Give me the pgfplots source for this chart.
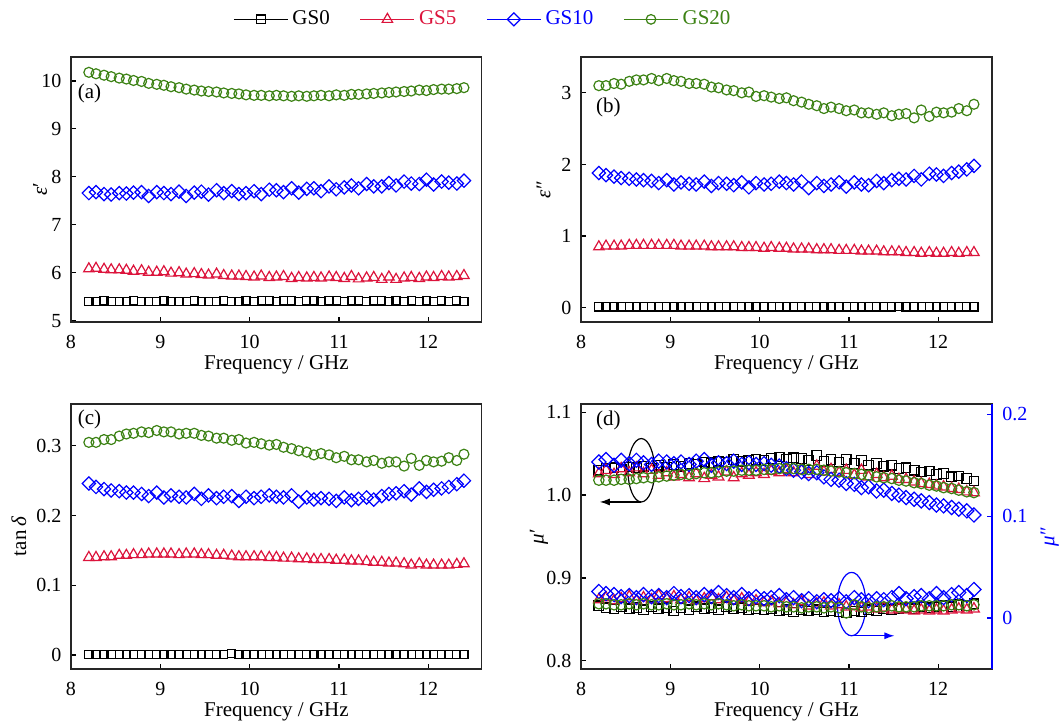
\documentclass[border=0pt]{standalone}
\usepackage{fontspec}
\setmainfont{Liberation Serif}
\usepackage{pgfplots}
\pgfplotsset{compat=1.18}
\usepackage{pgfplotstable}
\usetikzlibrary{arrows.meta}

\definecolor{gsred}{RGB}{220,20,60}
\definecolor{gsblue}{RGB}{0,0,255}
\definecolor{gsgreen}{RGB}{60,130,20}

\newcommand\lblfont{\fontsize{10.5}{12}\selectfont}
\newcommand\tckfont{\fontsize{10}{12}\selectfont}

\pgfplotsset{
  panel/.style={
    scale only axis, width=205.4pt, height=132.5pt, anchor=north west,
    xmin=8, xmax=12.6, xtick={8,...,12},
    tick align=inside, tick pos=left, major tick length=2.5pt,
    axis line style={black!85, line width=0.7pt},
    tick style={black, line width=0.6pt},
    /pgf/number format/assume math mode=true,
    every tick label/.append style={font=\tckfont},
    xticklabel style={yshift=-3pt},
    yticklabel style={xshift=-1.3pt},
    label style={font=\lblfont},
    xlabel={Frequency / GHz},
    xlabel style={at={([yshift=-21.5pt]rel axis cs:0.5,0)}, anchor=center},
  },
  ylab/.style={ylabel style={at={([xshift=-#1]rel axis cs:0,0.5)}, anchor=center}},
  s0/.style={only marks, black, mark=square, mark size=#1, mark options={fill=white, line width=0.6pt}},
  s5/.style={only marks, gsred, mark=triangle, mark size=#1, mark options={fill=white, line width=0.6pt}},
  s10/.style={only marks, gsblue, mark=square, mark size=#1, mark options={fill=white, rotate=45, line width=0.6pt}},
  s20/.style={only marks, gsgreen, mark=o, mark size=#1, mark options={fill=white, line width=0.6pt}},
}

% epsilon'
\pgfplotstableread{
f g0 g5 g10 g20
8.20 5.40 6.08 7.66 10.18
8.28 5.40 6.09 7.68 10.15
8.37 5.41 6.07 7.64 10.12
8.45 5.40 6.06 7.63 10.09
8.54 5.40 6.06 7.66 10.06
8.62 5.40 6.05 7.65 10.04
8.70 5.41 6.03 7.67 10.01
8.79 5.40 6.04 7.68 9.99
8.87 5.40 6.01 7.60 9.95
8.96 5.40 6.01 7.68 9.93
9.04 5.41 6.02 7.66 9.91
9.12 5.40 5.99 7.64 9.88
9.21 5.40 6.00 7.69 9.86
9.29 5.40 5.97 7.60 9.83
9.38 5.41 5.98 7.67 9.81
9.46 5.40 5.96 7.69 9.79
9.54 5.40 5.95 7.63 9.78
9.63 5.40 5.97 7.72 9.77
9.71 5.41 5.94 7.66 9.75
9.80 5.40 5.93 7.70 9.74
9.88 5.40 5.93 7.64 9.73
9.96 5.41 5.92 7.66 9.71
10.05 5.40 5.91 7.70 9.70
10.13 5.41 5.93 7.64 9.70
10.22 5.41 5.90 7.73 9.69
10.30 5.40 5.91 7.72 9.70
10.38 5.41 5.92 7.68 9.69
10.47 5.41 5.88 7.76 9.68
10.55 5.40 5.90 7.67 9.69
10.64 5.41 5.89 7.75 9.68
10.72 5.41 5.90 7.76 9.69
10.80 5.40 5.89 7.70 9.70
10.89 5.41 5.91 7.80 9.69
10.97 5.41 5.90 7.74 9.71
11.06 5.40 5.88 7.78 9.70
11.14 5.41 5.92 7.82 9.72
11.22 5.41 5.87 7.76 9.72
11.31 5.40 5.89 7.85 9.73
11.39 5.41 5.90 7.80 9.74
11.48 5.41 5.86 7.80 9.75
11.56 5.40 5.91 7.87 9.76
11.64 5.41 5.86 7.82 9.77
11.73 5.40 5.89 7.90 9.78
11.81 5.41 5.90 7.86 9.79
11.90 5.40 5.88 7.85 9.81
11.98 5.41 5.91 7.94 9.80
12.06 5.40 5.90 7.84 9.82
12.15 5.41 5.92 7.90 9.83
12.23 5.40 5.91 7.88 9.83
12.32 5.41 5.92 7.86 9.84
12.40 5.40 5.94 7.92 9.86
}\tabA

% epsilon''
\pgfplotstableread{
f g0 g5 g10 g20
8.20 0.01 0.85 1.88 3.10
8.28 0.01 0.86 1.85 3.10
8.37 0.01 0.86 1.83 3.13
8.45 0.01 0.86 1.81 3.12
8.54 0.01 0.87 1.80 3.16
8.62 0.01 0.87 1.79 3.18
8.70 0.01 0.87 1.78 3.18
8.79 0.01 0.87 1.77 3.20
8.87 0.01 0.87 1.74 3.17
8.96 0.01 0.87 1.78 3.20
9.04 0.01 0.87 1.72 3.17
9.12 0.01 0.86 1.75 3.16
9.21 0.01 0.86 1.73 3.13
9.29 0.01 0.86 1.72 3.13
9.38 0.01 0.86 1.76 3.12
9.46 0.01 0.85 1.70 3.08
9.54 0.01 0.85 1.74 3.07
9.63 0.01 0.85 1.73 3.04
9.71 0.01 0.85 1.71 3.03
9.80 0.01 0.84 1.75 3.00
9.88 0.01 0.84 1.68 3.01
9.96 0.01 0.84 1.74 2.95
10.05 0.01 0.83 1.72 2.96
10.13 0.01 0.84 1.73 2.94
10.22 0.01 0.83 1.76 2.92
10.30 0.01 0.83 1.74 2.93
10.38 0.01 0.82 1.72 2.89
10.47 0.01 0.82 1.76 2.87
10.55 0.01 0.82 1.67 2.84
10.64 0.01 0.81 1.74 2.82
10.72 0.01 0.81 1.70 2.78
10.80 0.01 0.81 1.72 2.80
10.89 0.01 0.80 1.75 2.78
10.97 0.01 0.80 1.69 2.75
11.06 0.01 0.80 1.75 2.76
11.14 0.01 0.79 1.72 2.72
11.22 0.01 0.79 1.71 2.72
11.31 0.01 0.79 1.77 2.70
11.39 0.01 0.78 1.74 2.72
11.48 0.01 0.78 1.78 2.68
11.56 0.02 0.78 1.80 2.70
11.64 0.01 0.77 1.79 2.71
11.73 0.01 0.77 1.84 2.65
11.81 0.01 0.76 1.79 2.76
11.90 0.01 0.77 1.87 2.67
11.98 0.01 0.76 1.86 2.73
12.06 0.01 0.76 1.84 2.72
12.15 0.01 0.77 1.88 2.73
12.23 0.01 0.76 1.90 2.78
12.32 0.01 0.77 1.93 2.75
12.40 0.01 0.77 1.98 2.84
}\tabB

% tan delta
\pgfplotstableread{
f g0 g5 g10 g20
8.20 0.001 0.140 0.246 0.305
8.28 0.001 0.140 0.241 0.305
8.37 0.001 0.141 0.238 0.309
8.45 0.001 0.141 0.236 0.309
8.54 0.001 0.143 0.235 0.314
8.62 0.001 0.143 0.233 0.317
8.70 0.001 0.144 0.233 0.318
8.79 0.001 0.144 0.231 0.320
8.87 0.001 0.145 0.228 0.319
8.96 0.001 0.145 0.233 0.322
9.04 0.001 0.145 0.226 0.320
9.12 0.001 0.145 0.229 0.320
9.21 0.001 0.144 0.227 0.317
9.29 0.001 0.145 0.226 0.318
9.38 0.001 0.145 0.231 0.318
9.46 0.001 0.144 0.224 0.315
9.54 0.001 0.144 0.229 0.314
9.63 0.001 0.143 0.225 0.311
9.71 0.001 0.143 0.227 0.311
9.80 0.002 0.142 0.228 0.308
9.88 0.001 0.141 0.221 0.309
9.96 0.001 0.141 0.227 0.304
10.05 0.001 0.141 0.225 0.305
10.13 0.001 0.141 0.227 0.303
10.22 0.001 0.140 0.229 0.301
10.30 0.001 0.140 0.227 0.302
10.38 0.001 0.139 0.226 0.298
10.47 0.001 0.139 0.229 0.296
10.55 0.001 0.138 0.220 0.293
10.64 0.001 0.138 0.226 0.291
10.72 0.001 0.137 0.223 0.287
10.80 0.001 0.137 0.225 0.289
10.89 0.001 0.137 0.224 0.287
10.97 0.001 0.136 0.221 0.283
11.06 0.001 0.136 0.226 0.285
11.14 0.001 0.135 0.222 0.280
11.22 0.001 0.135 0.224 0.280
11.31 0.001 0.134 0.226 0.277
11.39 0.001 0.133 0.223 0.279
11.48 0.001 0.133 0.228 0.275
11.56 0.001 0.132 0.231 0.277
11.64 0.001 0.132 0.232 0.277
11.73 0.001 0.131 0.235 0.271
11.81 0.001 0.129 0.230 0.282
11.90 0.001 0.131 0.239 0.272
11.98 0.001 0.129 0.234 0.279
12.06 0.001 0.129 0.237 0.277
12.15 0.001 0.129 0.239 0.278
12.23 0.001 0.129 0.241 0.283
12.32 0.001 0.130 0.245 0.279
12.40 0.001 0.131 0.250 0.288
}\tabC

% mu' (m) and mu'' (n)
\pgfplotstableread{
f m0 m5 m10 m20 n0 n5 n10 n20
8.20 1.030 1.026 1.040 1.018 0.012 0.018 0.026 0.014
8.28 1.032 1.030 1.043 1.018 0.010 0.020 0.024 0.014
8.37 1.033 1.025 1.036 1.018 0.009 0.017 0.023 0.013
8.45 1.031 1.032 1.042 1.019 0.011 0.019 0.021 0.013
8.54 1.034 1.027 1.038 1.019 0.009 0.021 0.022 0.014
8.62 1.033 1.033 1.042 1.020 0.010 0.017 0.020 0.013
8.70 1.035 1.026 1.039 1.021 0.008 0.020 0.023 0.014
8.79 1.032 1.030 1.037 1.021 0.011 0.018 0.021 0.013
8.87 1.036 1.024 1.041 1.022 0.009 0.022 0.022 0.013
8.96 1.034 1.027 1.040 1.023 0.010 0.019 0.020 0.014
9.04 1.037 1.022 1.038 1.024 0.007 0.021 0.024 0.013
9.12 1.035 1.025 1.040 1.025 0.010 0.018 0.021 0.013
9.21 1.038 1.021 1.037 1.025 0.008 0.020 0.022 0.014
9.29 1.037 1.026 1.041 1.026 0.011 0.017 0.020 0.013
9.38 1.040 1.020 1.043 1.027 0.009 0.019 0.023 0.014
9.46 1.039 1.024 1.036 1.027 0.010 0.021 0.021 0.013
9.54 1.041 1.022 1.039 1.028 0.008 0.018 0.025 0.014
9.63 1.040 1.028 1.038 1.029 0.011 0.020 0.022 0.013
9.71 1.043 1.021 1.041 1.029 0.009 0.017 0.020 0.012
9.80 1.041 1.026 1.037 1.030 0.010 0.019 0.023 0.013
9.88 1.042 1.024 1.039 1.030 0.008 0.016 0.019 0.012
9.96 1.043 1.027 1.037 1.030 0.009 0.017 0.021 0.012
10.05 1.042 1.025 1.038 1.031 0.008 0.015 0.019 0.012
10.13 1.044 1.029 1.036 1.031 0.009 0.016 0.020 0.011
10.22 1.046 1.027 1.035 1.032 0.007 0.014 0.022 0.012
10.30 1.043 1.031 1.032 1.032 0.008 0.015 0.018 0.011
10.38 1.045 1.027 1.030 1.032 0.006 0.013 0.020 0.011
10.47 1.044 1.030 1.028 1.031 0.008 0.016 0.017 0.010
10.55 1.042 1.025 1.026 1.031 0.007 0.012 0.019 0.011
10.64 1.048 1.035 1.027 1.031 0.008 0.014 0.016 0.011
10.72 1.041 1.028 1.022 1.030 0.006 0.015 0.018 0.010
10.80 1.043 1.031 1.019 1.029 0.007 0.012 0.017 0.011
10.89 1.040 1.027 1.018 1.028 0.006 0.013 0.019 0.010
10.97 1.043 1.030 1.014 1.027 0.005 0.011 0.016 0.005
11.06 1.038 1.024 1.013 1.026 0.007 0.012 0.020 0.013
11.14 1.042 1.030 1.009 1.025 0.006 0.010 0.018 0.011
11.22 1.036 1.022 1.010 1.024 0.008 0.011 0.017 0.010
11.31 1.038 1.025 1.005 1.022 0.007 0.009 0.019 0.011
11.39 1.035 1.021 1.006 1.021 0.009 0.010 0.018 0.011
11.48 1.036 1.023 1.002 1.020 0.008 0.008 0.020 0.012
11.56 1.032 1.019 1.000 1.018 0.009 0.009 0.024 0.011
11.64 1.033 1.019 0.997 1.017 0.010 0.008 0.019 0.011
11.73 1.030 1.016 0.995 1.015 0.009 0.007 0.021 0.011
11.81 1.028 1.014 0.993 1.014 0.011 0.008 0.022 0.012
11.90 1.029 1.013 0.991 1.012 0.010 0.007 0.019 0.012
11.98 1.025 1.011 0.988 1.011 0.011 0.008 0.024 0.012
12.06 1.026 1.010 0.987 1.009 0.012 0.007 0.020 0.012
12.15 1.022 1.008 0.985 1.008 0.011 0.008 0.023 0.013
12.23 1.023 1.007 0.983 1.006 0.013 0.009 0.025 0.013
12.32 1.020 1.004 0.981 1.004 0.012 0.008 0.022 0.012
12.40 1.017 1.003 0.976 1.003 0.014 0.009 0.028 0.013
}\tabD

\begin{document}
\begin{tikzpicture}
\path[use as bounding box] (0,0) rectangle (530.5pt,-364pt);

% (a) epsilon'
\begin{axis}[panel, at={(35.5pt,-28.5pt)},
  ymin=4.97, ymax=10.5, ytick={5,...,10},
  ylabel={\textit{ε}′}, ylab=15.5pt,
  legend style={at={(rel axis cs:1.005,1.142)}, anchor=center, draw=none, fill=none,
    font=\lblfont, legend columns=4,
    /tikz/every even column/.append style={column sep=13pt}},
  legend image code/.code={\draw[mark repeat=2, mark phase=2] plot coordinates {(0pt,0pt) (13.5pt,0pt) (27pt,0pt)};},
]
\addlegendimage{black, line width=0.6pt, mark=square, mark size=2.2pt, mark options={fill=white, solid}}
\addlegendimage{gsred, line width=0.6pt, mark=triangle, mark size=3pt, mark options={fill=white, solid}}
\addlegendimage{gsblue, line width=0.6pt, mark=square, mark size=2.3pt, mark options={fill=white, rotate=45, solid}}
\addlegendimage{gsgreen, line width=0.6pt, mark=o, mark size=2.4pt, mark options={fill=white, solid}}
\legend{GS0, \textcolor{gsred}{GS5}, \textcolor{gsblue}{GS10}, \textcolor{gsgreen}{GS20}}
\addplot[s0=2.05pt] table[x=f, y=g0] {\tabA};
\addplot[s5=3pt] table[x=f, y=g5] {\tabA};
\addplot[s10=2.35pt] table[x=f, y=g10] {\tabA};
\addplot[s20=2.5pt] table[x=f, y=g20] {\tabA};
\node[font=\lblfont] at ([xshift=9.25pt, yshift=-18pt]rel axis cs:0,1) {(a)};
\end{axis}

% (b) epsilon''
\begin{axis}[panel, at={(290.5pt,-28.5pt)},
  ymin=-0.2, ymax=3.5, ytick={0,...,3},
  ylabel={\textit{ε}″}, ylab=18.75pt,
]
\addplot[s0=2.05pt] table[x=f, y=g0] {\tabB};
\addplot[s5=3pt] table[x=f, y=g5] {\tabB};
\addplot[s10=2.35pt] table[x=f, y=g10] {\tabB};
\addplot[s20=2.5pt] table[x=f, y=g20] {\tabB};
\node[font=\lblfont] at ([xshift=13.7pt, yshift=-25pt]rel axis cs:0,1) {(b)};
\end{axis}

% (c) tan delta
\begin{axis}[panel, at={(35.5pt,-202pt)},
  ymin=-0.02, ymax=0.36, ytick={0,0.1,0.2,0.3},
  ylabel={tan\,\textit{δ}}, ylab=26pt,
]
\addplot[s0=2.05pt] table[x=f, y=g0] {\tabC};
\addplot[s5=3pt] table[x=f, y=g5] {\tabC};
\addplot[s10=2.35pt] table[x=f, y=g10] {\tabC};
\addplot[s20=2.5pt] table[x=f, y=g20] {\tabC};
\node[font=\lblfont] at ([xshift=9.25pt, yshift=-7.5pt]rel axis cs:0,1) {(c)};
\end{axis}

% (d) mu' on the left axis
\begin{axis}[panel, at={(290.5pt,-202pt)},
  ymin=0.79, ymax=1.11, ytick={0.8,0.9,1.0,1.1},
  yticklabel style={/pgf/number format/.cd, fixed, fixed zerofill, precision=1},
  ylabel={\textit{μ}′}, ylab=21pt,
]
\addplot[s0=2.4pt] table[x=f, y=m0] {\tabD};
\addplot[s5=3.1pt] table[x=f, y=m5] {\tabD};
\addplot[s10=2.5pt] table[x=f, y=m10] {\tabD};
\addplot[s20=2.6pt] table[x=f, y=m20] {\tabD};
\node[font=\lblfont] at ([xshift=13.7pt, yshift=-8pt]rel axis cs:0,1) {(d)};
\draw[black, line width=0.6pt] (axis cs:8.675,1.03) ellipse [x radius=6.65pt, y radius=15.85pt];
\draw[black, line width=0.6pt, -{Latex[length=5pt, width=3.5pt]}]
  ([yshift=-15.85pt]axis cs:8.675,1.03) -- ([yshift=-15.85pt]axis cs:8.21,1.03);
\end{axis}

% (d) mu'' on the right axis
\begin{axis}[scale only axis, width=205.4pt, height=132.5pt, anchor=north west,
  at={(290.5pt,-202pt)},
  xmin=8, xmax=12.6, axis x line=none, axis y line*=right,
  ymin=-0.05, ymax=0.21, ytick={0,0.1,0.2},
  tick align=inside, major tick length=2.5pt,
  y axis line style={gsblue, line width=0.8pt},
  ytick style={gsblue, line width=0.6pt},
  /pgf/number format/assume math mode=true,
  yticklabel style={gsblue, font=\tckfont, xshift=1.7pt},
  ylabel={\textit{μ}″},
  ylabel style={gsblue, font=\lblfont, at={([xshift=29pt]rel axis cs:1,0.5)}, anchor=center},
]
\addplot[s0=2.4pt] table[x=f, y=n0] {\tabD};
\addplot[s5=3.1pt] table[x=f, y=n5] {\tabD};
\addplot[s10=2.5pt] table[x=f, y=n10] {\tabD};
\addplot[s20=2.6pt] table[x=f, y=n20] {\tabD};
\draw[gsblue, line width=0.6pt] (axis cs:11.03,0.0137) ellipse [x radius=7.1pt, y radius=15.85pt];
\draw[gsblue, line width=0.6pt, -{Latex[length=5pt, width=3.5pt]}]
  ([yshift=-15.85pt]axis cs:11.03,0.0137) -- ([yshift=-15.85pt]axis cs:11.51,0.0137);
\end{axis}
\end{tikzpicture}
\end{document}
